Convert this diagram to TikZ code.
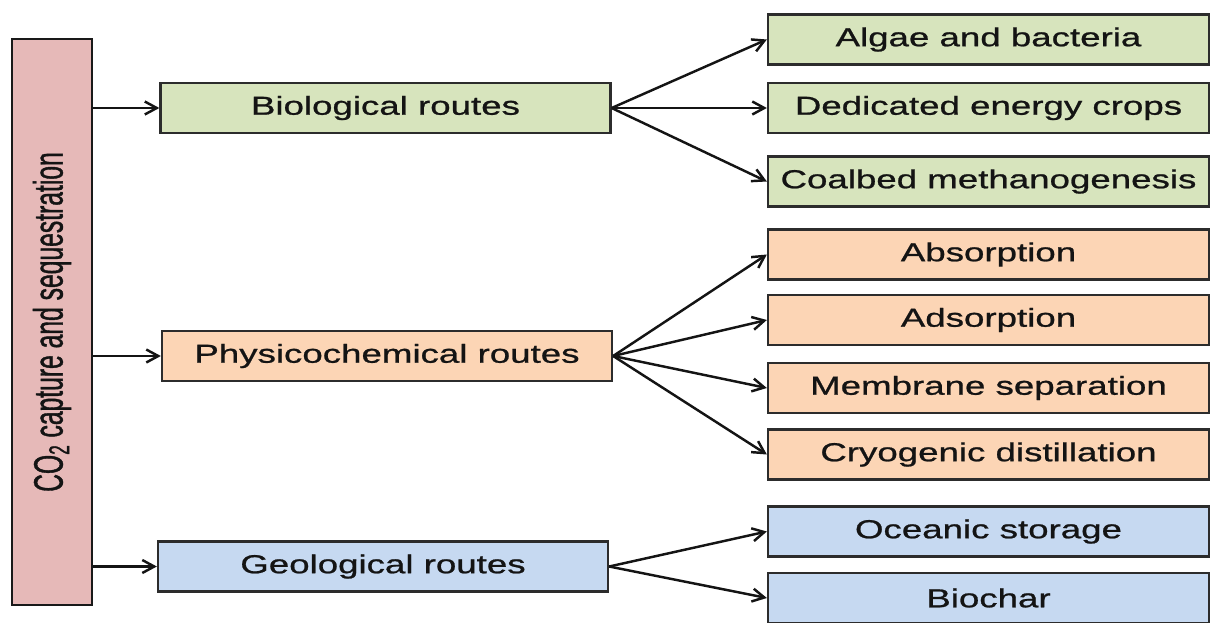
\documentclass[tikz,border=0pt]{standalone}
\usepackage{fontspec}
\setmainfont{Liberation Sans}
\newfontfamily\ccfonte[FakeStretch=1.41,FakeBold=0.9]{Liberation Sans}
\newfontfamily\ccfontebarra[FakeStretch=0.60,FakeBold=0.9]{Liberation Sans}
\usetikzlibrary{positioning,arrows.meta}
\definecolor{ccrosa}{HTML}{E6B9B8}
\definecolor{ccverde}{HTML}{D7E4BD}
\definecolor{cclaranja}{HTML}{FCD5B5}
\definecolor{ccazul}{HTML}{C6D9F1}
\definecolor{cccontorno}{HTML}{2C2C2C}
\definecolor{cctexto}{HTML}{141414}
\tikzset{
  ccbloco/.style={draw=cccontorno, line width=1.3pt, text=cctexto, align=center,
                  inner sep=0pt, font=\ccfonte\fontsize{14.8}{17}\selectfont, minimum height=1cm},
  ccrota/.style={ccbloco, minimum width=9cm},
  ccfolha/.style={ccbloco, minimum width=8.82cm},
  ccseta/.style={-{Straight Barb[length=2.4mm,width=2.6mm]}, line width=1.4pt, draw=cctexto},
}
\begin{document}
\begin{tikzpicture}
  \useasboundingbox (0,0) rectangle (24.22,-12.44);
  % barra vertical
  \node[ccbloco, fill=ccrosa, draw=black!90, rotate=90, minimum width=11.32cm, minimum height=1.6cm,
        font=\ccfontebarra\fontsize{23.4}{26}\selectfont] (barra) at (1.04,-6.44)
        {CO\textsubscript{2} capture and sequestration};
  % rotas
  \node[ccrota, fill=ccverde] (bio) at (7.71,-2.16) {Biological routes};
  \node[ccrota, fill=cclaranja] (fisqui) at (7.74,-7.12) {Physicochemical routes};
  \node[ccrota, fill=ccazul] (geo) at (7.66,-11.33) {Geological routes};
  % folhas
  \node[ccfolha, fill=ccverde] (algas) at (19.77,-0.79) {Algae and bacteria};
  \node[ccfolha, fill=ccverde] (culturas) at (19.77,-2.16) {Dedicated energy crops};
  \node[ccfolha, fill=ccverde] (carvao) at (19.77,-3.63) {Coalbed methanogenesis};
  \node[ccfolha, fill=cclaranja] (absor) at (19.77,-5.09) {Absorption};
  \node[ccfolha, fill=cclaranja] (adsor) at (19.77,-6.40) {Adsorption};
  \node[ccfolha, fill=cclaranja] (membrana) at (19.77,-7.76) {Membrane separation};
  \node[ccfolha, fill=cclaranja] (crio) at (19.77,-9.09) {Cryogenic distillation};
  \node[ccfolha, fill=ccazul] (oceano) at (19.77,-10.63) {Oceanic storage};
  \node[ccfolha, fill=ccazul] (biochar) at (19.77,-11.96) {Biochar};
  % setas
  \draw[ccseta] (bio -| barra.south) -- (bio.west);
  \draw[ccseta] (fisqui -| barra.south) -- (fisqui.west);
  \draw[ccseta] (geo -| barra.south) -- (geo.west);
  \draw[ccseta] (bio.east) -- (algas.west);
  \draw[ccseta] (bio.east) -- (culturas.west);
  \draw[ccseta] (bio.east) -- (carvao.west);
  \draw[ccseta] (fisqui.east) -- (absor.west);
  \draw[ccseta] (fisqui.east) -- (adsor.west);
  \draw[ccseta] (fisqui.east) -- (membrana.west);
  \draw[ccseta] (fisqui.east) -- (crio.west);
  \draw[ccseta] (geo.east) -- (oceano.west);
  \draw[ccseta] (geo.east) -- (biochar.west);
\end{tikzpicture}
\end{document}
